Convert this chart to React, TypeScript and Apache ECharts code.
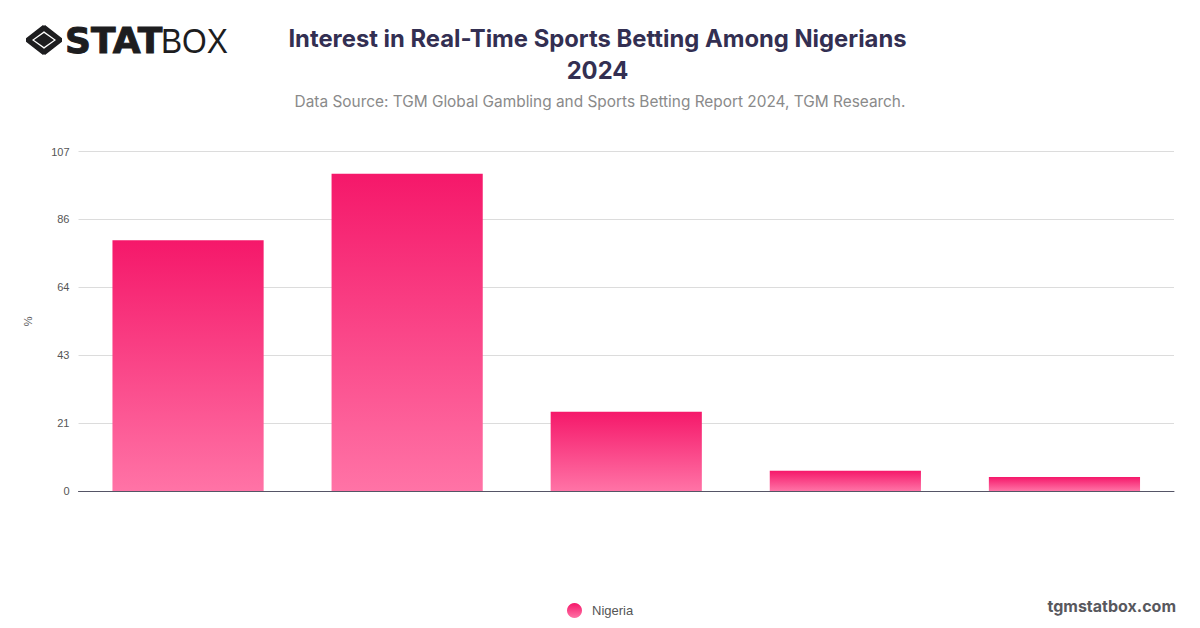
import React, { useEffect, useRef } from 'react';
import * as echarts from 'echarts';

// the reference shows no category labels, so these stay blank
const categories = ['', ' ', '  ', '   ', '    '];
const nigeriaValues = [79, 100, 25, 6.4, 4.4];
const seriesName = 'Nigeria';
const yMax = 107;
const yStep = 21.4;

const titleText = 'Interest in Real-Time Sports Betting Among Nigerians\n2024';
const sourceText = 'Data Source: TGM Global Gambling and Sports Betting Report 2024, TGM Research.';
const siteText = 'tgmstatbox.com';

const FONT = 'Inter, "Liberation Sans", sans-serif';

// logo mark: outer diamond ring with four gaps at the corners, solid centre
echarts.graphic.registerShape(
  'logoMark',
  echarts.graphic.extendPath(
    'M17 0 L21 4 L17 8 L6 17 L17 26 L21 30 L17 34 L0 19 L0 15 Z M19 0 L36 15 L36 19 L19 34 L15 30 L19 26 L30 17 L19 8 L15 4 Z M18 9 L28 17 L18 25 L8 17 Z',
    {}
  )
);

const App: React.FC = () => {
  const chartRef = useRef<HTMLDivElement>(null);

  useEffect(() => {
    if (!chartRef.current) return;
    document.body.style.margin = '0';

    const chart = echarts.init(chartRef.current, null, { renderer: 'svg' });

    const barGradient = new echarts.graphic.LinearGradient(0, 0, 0, 1, [
      { offset: 0, color: '#f5186a' },
      { offset: 1, color: '#ff73a6' }
    ]);

    const option: echarts.EChartsOption = {
      animation: false,
      backgroundColor: '#ffffff',
      textStyle: { fontFamily: FONT },
      title: [
        {
          text: titleText,
          left: 592.5,
          top: 17,
          textAlign: 'center',
          textStyle: {
            fontFamily: FONT,
            fontSize: 23.8,
            fontWeight: 700,
            color: '#332f52',
            lineHeight: 32
          }
        },
        {
          text: sourceText,
          left: 595,
          top: 89,
          textAlign: 'center',
          textStyle: {
            fontFamily: FONT,
            fontSize: 15.4,
            fontWeight: 400,
            color: '#8a8a8a'
          }
        }
      ],
      legend: {
        data: [seriesName],
        left: 562,
        top: 598,
        icon: 'circle',
        itemWidth: 15,
        itemHeight: 15,
        textStyle: {
          fontFamily: '"Liberation Sans", sans-serif',
          fontSize: 13,
          color: '#555555',
          padding: [0, 0, 0, 5]
        }
      },
      grid: {
        left: 78.5,
        right: 26,
        top: 151.5,
        bottom: 137,
        containLabel: false
      },
      xAxis: {
        type: 'category',
        data: categories,
        z: 5,
        axisLine: { show: true, lineStyle: { color: '#555566', width: 1 } },
        axisTick: { show: false },
        axisLabel: { show: false }
      },
      yAxis: {
        type: 'value',
        min: 0,
        max: yMax,
        interval: yStep,
        name: '%',
        nameLocation: 'middle',
        nameGap: 45,
        nameTextStyle: {
          fontFamily: '"Liberation Sans", sans-serif',
          fontSize: 11,
          color: '#555555'
        },
        axisLine: { show: false },
        axisTick: { show: false },
        axisLabel: {
          margin: 9,
          fontFamily: '"Liberation Sans", sans-serif',
          fontSize: 11,
          color: '#555555',
          formatter: (value: number) => String(Math.round(value))
        },
        splitLine: { lineStyle: { color: '#dcdcdc', width: 1 } }
      },
      series: [
        {
          name: seriesName,
          type: 'bar',
          data: nigeriaValues,
          barWidth: '69%',
          itemStyle: { color: barGradient }
        }
      ],
      graphic: [
        {
          type: 'logoMark',
          x: 26,
          y: 25,
          scaleY: 0.88,
          style: { fill: '#1d1d1f' }
        } as any,
        {
          type: 'text',
          x: 65,
          y: 22,
          style: {
            text: 'STAT',
            font: '900 36px "DejaVu Sans", sans-serif',
            fill: '#1d1d1f',
            stroke: '#1d1d1f',
            lineWidth: 1
          }
        },
        {
          type: 'text',
          x: 161,
          y: 22,
          scaleX: 0.88,
          style: {
            text: 'BOX',
            font: '300 36px "Liberation Sans", sans-serif',
            fill: '#1d1d1f'
          }
        },
        {
          type: 'text',
          x: 1176,
          y: 598,
          style: {
            text: siteText,
            align: 'right',
            font: '700 16px Inter, sans-serif',
            fill: '#58585e'
          }
        }
      ]
    };

    chart.setOption(option);

    return () => {
      chart.dispose();
    };
  }, []);

  return <div ref={chartRef} style={{ width: 1200, height: 628 }} />;
};

export default App;
